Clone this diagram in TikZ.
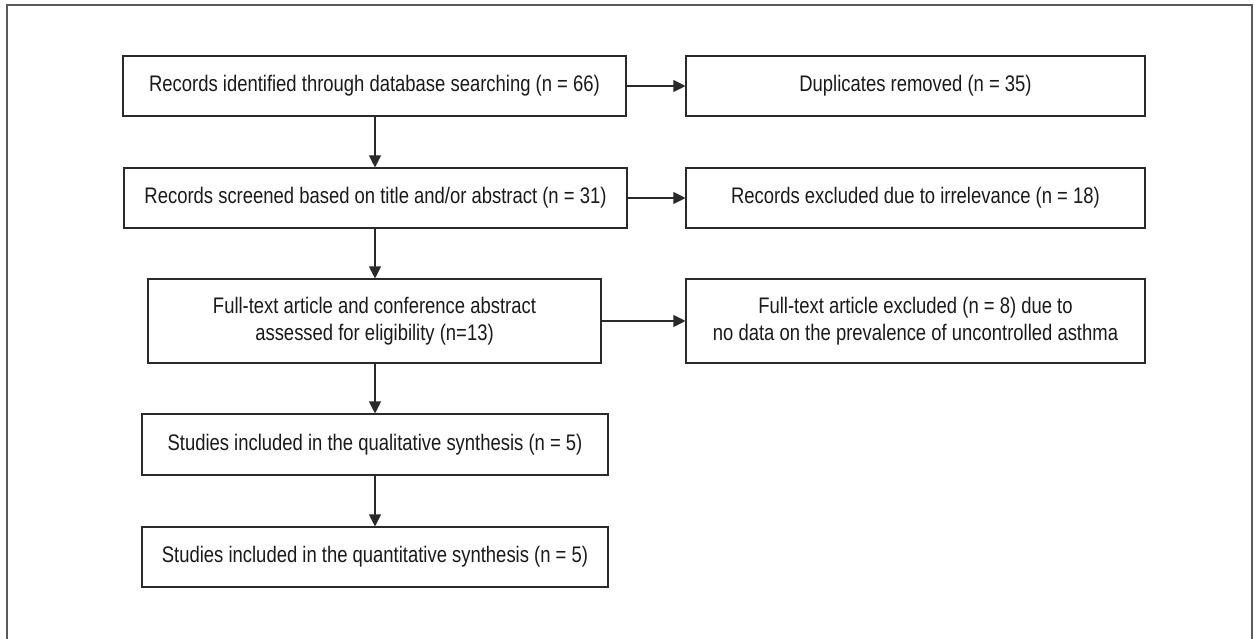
\documentclass[tikz,border=0pt]{standalone}
\usepackage{fontspec}
\setmainfont{Liberation Sans}[FakeStretch=0.82]
\usetikzlibrary{arrows.meta}
\definecolor{linec}{HTML}{2A2A2A}
\definecolor{framec}{HTML}{5A5A5A}
\definecolor{textc}{HTML}{1A1A1A}
\tikzset{
  flowbox/.style={draw=linec, line width=1.1pt, rectangle, inner sep=0pt,
    minimum height=60pt, align=center, text=textc,
    font=\fontsize{22.5}{27}\selectfont},
  flowarrow/.style={draw=linec, line width=1.1pt,
    -{Triangle[length=12pt,width=12pt]}},
}
\begin{document}
\begin{tikzpicture}[x=1pt,y=-1pt]
\useasboundingbox (0,0) rectangle (1255,639);
\draw[framec, line width=2pt] (7,650) -- (7,5) -- (1252,5) -- (1252,650);
\node[flowbox, minimum width=503pt] (b1) at (374.5,86) {Records identified through database searching (n = 66)};
\node[flowbox, minimum width=503pt] (b2) at (375.5,198) {Records screened based on title and/or abstract (n = 31)};
\node[flowbox, minimum width=453pt, minimum height=84pt] (b3) at (374.5,321) {Full-text article and conference abstract\\assessed for eligibility (n=13)};
\node[flowbox, minimum width=466pt, minimum height=61pt] (b4) at (375,444.5) {Studies included in the qualitative synthesis (n = 5)};
\node[flowbox, minimum width=466pt] (b5) at (375,557) {Studies included in the quantitative synthesis (n = 5)};
\node[flowbox, minimum width=459pt] (r1) at (915.5,86) {Duplicates removed (n = 35)};
\node[flowbox, minimum width=459pt] (r2) at (915.5,198) {Records excluded due to irrelevance (n = 18)};
\node[flowbox, minimum width=459pt, minimum height=84pt] (r3) at (915.5,321) {Full-text article excluded (n = 8) due to\\no data on the prevalence of uncontrolled asthma};
\draw[flowarrow] (b1.east) -- (r1.west);
\draw[flowarrow] (b2.east) -- (r2.west);
\draw[flowarrow] (b3.east) -- (r3.west);
\draw[flowarrow] (b1.south -| 375,0) -- (b2.north -| 375,0);
\draw[flowarrow] (b2.south -| 375,0) -- (b3.north -| 375,0);
\draw[flowarrow] (b3.south -| 375,0) -- (b4.north -| 375,0);
\draw[flowarrow] (b4.south -| 375,0) -- (b5.north -| 375,0);
\end{tikzpicture}
\end{document}
